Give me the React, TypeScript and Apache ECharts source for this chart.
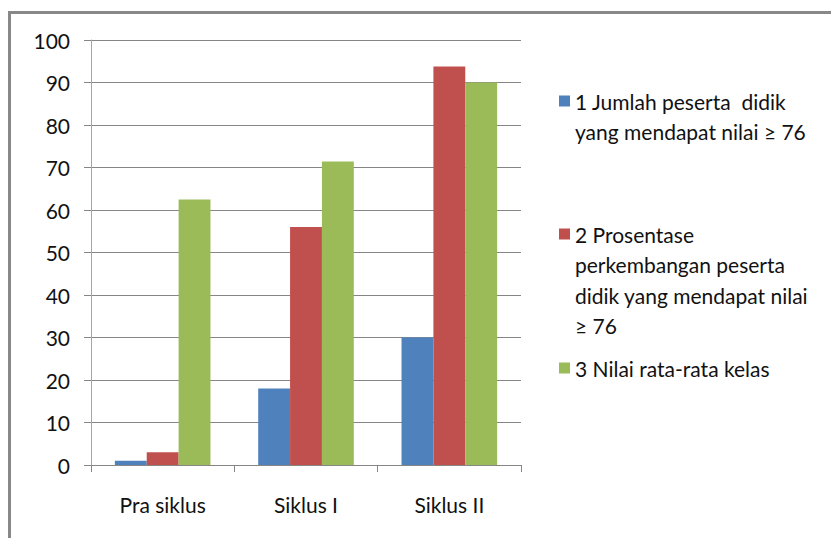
import React, { useEffect, useRef } from "react";
import * as echarts from "echarts";

const categories = ["Pra siklus", "Siklus I", "Siklus II"];
const seriesNames = [
  "1 Jumlah peserta didik yang mendapat nilai ≥ 76",
  "2 Prosentase perkembangan peserta didik yang mendapat nilai ≥ 76",
  "3 Nilai rata-rata kelas",
];
const legendLines = [
  ["1 Jumlah peserta  didik", "yang mendapat nilai ≥ 76"],
  ["2 Prosentase", "perkembangan peserta", "didik yang mendapat nilai", "≥ 76"],
  ["3 Nilai rata-rata kelas"],
];
const jumlahValues = [1, 18, 30];
const prosentaseValues = [3, 56, 93.75];
const rataRataValues = [62.5, 71.4, 90];
const colors = ["#4F81BD", "#C0504D", "#9BBB59"];
const yTicks = { min: 0, max: 100, interval: 10 };

const FONT = "Lato";
const AXIS_FS = 21;
const LEGEND_FS = 21;
const LH = 30.5;

export default function App() {
  const ref = useRef<HTMLDivElement>(null);
  useEffect(() => {
    if (!ref.current) return;
    const chart = echarts.init(ref.current, undefined, { renderer: "svg" });
    const values = [jumlahValues, prosentaseValues, rataRataValues];
    const firstLineY = [101, 234, 368];
    chart.setOption({
      animation: false,
      backgroundColor: "#ffffff",
      textStyle: { fontFamily: FONT },
      grid: { left: 91, top: 40, right: 310, bottom: 73, containLabel: false },
      xAxis: {
        type: "category",
        data: categories,
        axisLine: { lineStyle: { color: "#868686", width: 1 } },
        axisTick: { show: true, length: 7, lineStyle: { color: "#868686" } },
        axisLabel: { color: "#111", fontSize: AXIS_FS, fontFamily: FONT, margin: 29 },
      },
      yAxis: {
        type: "value",
        min: yTicks.min,
        max: yTicks.max,
        interval: yTicks.interval,
        axisLine: { show: true, lineStyle: { color: "#a6a6a6", width: 1 } },
        axisTick: { show: true, length: 7, lineStyle: { color: "#868686" } },
        axisLabel: { color: "#111", fontSize: AXIS_FS, fontFamily: FONT, margin: 21 },
        splitLine: { show: true, lineStyle: { color: "#868686", width: 1 } },
      },
      legend: seriesNames.map((name, i) => {
        const n = legendLines[i].length;
        const blanks = new Array(n - 1).fill("");
        return {
          left: 559,
          top: firstLineY[i] - ((2 * n - 1) * LH) / 2,
          orient: "vertical",
          padding: 0,
          itemWidth: 11,
          itemHeight: 11,
          icon: "rect",
          data: [name],
          selectedMode: false,
          formatter: () => blanks.concat(legendLines[i]).join("\n"),
          textStyle: {
            color: "#111",
            fontSize: LEGEND_FS,
            fontFamily: FONT,
            lineHeight: LH,
          },
        };
      }),
      series: seriesNames.map((name, i) => ({
        name,
        type: "bar",
        data: values[i],
        barGap: "0%",
        barCategoryGap: "33.3%",
        itemStyle: { color: colors[i] },
      })),
      graphic: [
        {
          type: "rect",
          shape: { x: 9.5, y: 12.5, width: 900, height: 700 },
          style: { fill: "none", stroke: "#888888", lineWidth: 3 },
          silent: true,
        },
      ],
    });
    return () => chart.dispose();
  }, []);
  return (
    <div
      ref={ref}
      style={{ position: "fixed", left: 0, top: 0, width: 831, height: 538 }}
    />
  );
}
